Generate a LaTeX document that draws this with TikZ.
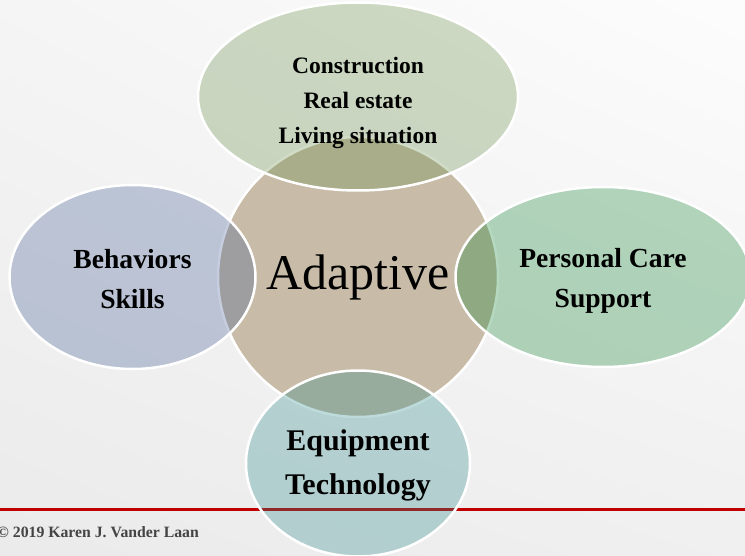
\documentclass[tikz,border=0pt]{standalone}
\usepackage{fontspec}
\setmainfont{Liberation Serif}
\usepackage{xcolor}
\usepackage{tikz}
\usetikzlibrary{shapes.geometric, positioning, shadings}

\definecolor{hubtan}{RGB}{200,188,168}
\definecolor{olivepetal}{RGB}{100,140,68}
\definecolor{slatepetal}{RGB}{63,90,147}
\definecolor{leafpetal}{RGB}{13,130,47}
\definecolor{tealpetal}{RGB}{42,136,136}
\definecolor{footred}{RGB}{192,0,0}
\definecolor{footgray}{RGB}{68,68,68}

\begin{document}
\begin{tikzpicture}[
    x=1pt, y=1pt,
    hub/.style={circle, draw=white, line width=2.5pt, fill=hubtan, minimum size=280pt, inner sep=0pt, font=\fontsize{50}{56}\selectfont},
    petal/.style={ellipse, draw=white, line width=2.5pt, fill opacity=0.3, inner sep=0pt},
    petaltext/.style 2 args={align=center, inner sep=0pt, font=\bfseries\fontsize{#1}{#2}\selectfont},
    footrule/.style={line width=3pt, draw=footred}
]
    % Slide background and footer rule
    \useasboundingbox (0,0) rectangle (745,555);
    \shade[upper left=gray!8, upper right=gray!2, lower left=gray!16, lower right=gray!12] (0,0) rectangle (745,555);
    \draw[footrule] (0,46) -- (745,46);

    % Central circle
    \node[hub] (hub) at (358,278) {Adaptive};

    % Overlapping ellipses around the hub
    \node[petal, fill=olivepetal, minimum width=320pt, minimum height=188pt, above=-56pt of hub] (housing) {};
    \node[petal, fill=slatepetal, minimum width=246pt, minimum height=184pt, left=-40pt of hub] (skills) {};
    \node[petal, fill=leafpetal, minimum width=295pt, minimum height=180pt, right=-45pt of hub] (care) {};
    \node[petal, fill=tealpetal, minimum width=224pt, minimum height=186pt, below=-49pt of hub] (equip) {};

    % Ellipse labels
    \node[petaltext={23.5}{35}, yshift=-6pt] (housingtext) at (housing) {Construction\\Real estate\\Living situation};
    \node[petaltext={27.6}{40}, yshift=-2pt] (skillstext) at (skills) {Behaviors\\Skills};
    \node[petaltext={27.6}{40}, yshift=-4pt] (caretext) at (care) {Personal Care\\Support};
    \node[petaltext={30}{44}, yshift=-2pt] (equiptext) at (equip) {Equipment\\Technology};

    % Footer credit
    \node[anchor=base west, inner sep=0pt, text=footgray, font=\bfseries\fontsize{15.75}{18}\selectfont] (credit) at (-3,18) {© 2019 Karen J. Vander Laan};
\end{tikzpicture}
\end{document}
